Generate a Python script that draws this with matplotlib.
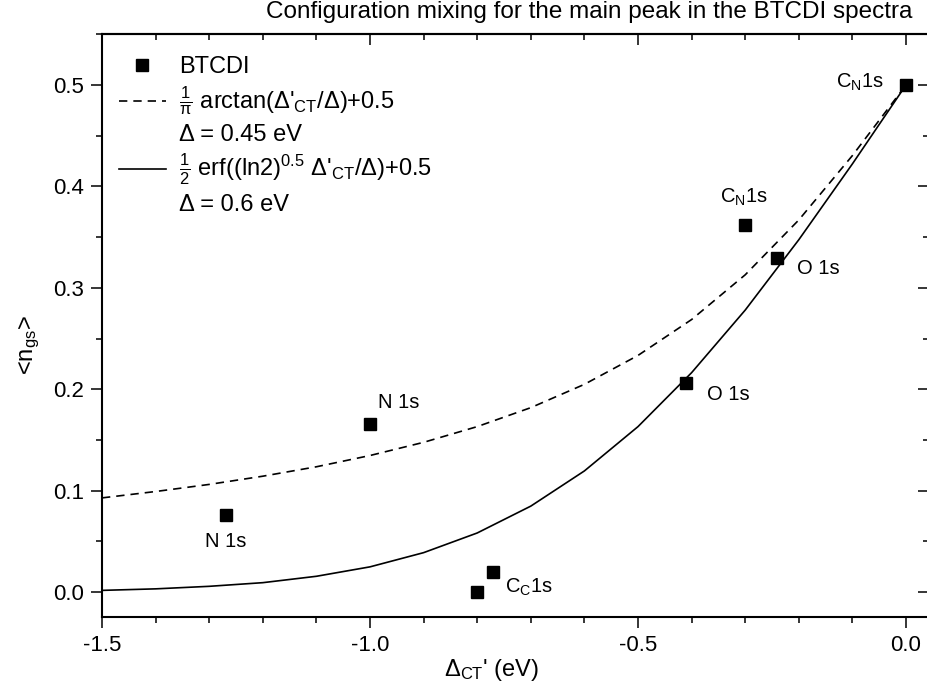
import matplotlib
matplotlib.use("Agg")
import matplotlib.pyplot as plt
from matplotlib.ticker import MultipleLocator, FormatStrFormatter
from matplotlib.lines import Line2D

plt.rcParams['font.family'] = ['Liberation Sans', 'DejaVu Sans']
plt.rcParams['mathtext.fontset'] = 'custom'
plt.rcParams['mathtext.rm'] = 'Liberation Sans'
plt.rcParams['mathtext.it'] = 'Liberation Sans:italic'
plt.rcParams['mathtext.bf'] = 'Liberation Sans:bold'

# Measured points
pt_x = [0.0, -0.30, -0.241, -0.41, -1.0, -1.269, -0.77, -0.80]
pt_y = [0.500, 0.362, 0.329, 0.206, 0.166, 0.076, 0.020, 0.000]
pt_labels = [r"C$_{\mathrm{N}}$1s", r"C$_{\mathrm{N}}$1s", "O 1s", "O 1s",
             "N 1s", "N 1s", "", r"C$_{\mathrm{C}}$1s"]
label_offsets = [(-33, 2), (-1, 20), (30, -7), (30, -8), (21, 15), (0, -19), (0, 0), (37, 3)]

# Curves (sampled every 0.1 eV)
curve_x = [-1.5, -1.4, -1.3, -1.2, -1.1, -1.0, -0.9, -0.8, -0.7, -0.6,
           -0.5, -0.4, -0.3, -0.2, -0.1, 0.0]
arctan_y = [0.0928, 0.0991, 0.1061, 0.1142, 0.1235, 0.1346, 0.1476, 0.1631,
            0.1818, 0.2048, 0.2333, 0.2687, 0.3128, 0.3669, 0.4304, 0.5000]
erf_y = [0.0016, 0.0031, 0.0056, 0.0092, 0.0155, 0.0248, 0.0388, 0.0582,
         0.0847, 0.1194, 0.1631, 0.2163, 0.2780, 0.3474, 0.4222, 0.5000]

fig = plt.figure(figsize=(9.27, 6.88), dpi=100)
W, H = 927, 688
L, R, T, B = 102, 929, 34, 617
ax = fig.add_axes([L / W, 1 - B / H, (R - L) / W, (B - T) / H])

ax.plot(curve_x, arctan_y, color='black', lw=1.2, linestyle=(0, (5, 3.6)))
ax.plot(curve_x, erf_y, color='black', lw=1.2)
ax.plot(pt_x, pt_y, linestyle='none', marker='s', color='black', markersize=9)

for x, y, lab, off in zip(pt_x, pt_y, pt_labels, label_offsets):
    if lab:
        ax.annotate(lab, (x, y), xytext=off, textcoords='offset points',
                    ha='center', va='center', fontsize=14.5)

ax.set_xlim(-1.5, (R - 906) / 536)
ax.set_ylim(-(B - 592) / 1014, 0.5 + (85 - T) / 1014)

ax.xaxis.set_major_locator(MultipleLocator(0.5))
ax.xaxis.set_minor_locator(MultipleLocator(0.1))
ax.yaxis.set_major_locator(MultipleLocator(0.1))
ax.yaxis.set_minor_locator(MultipleLocator(0.05))
ax.xaxis.set_major_formatter(FormatStrFormatter('%.1f'))
ax.yaxis.set_major_formatter(FormatStrFormatter('%.1f'))
ax.tick_params(which='major', direction='out', length=8, width=1.1, labelsize=16, pad=5)
ax.tick_params(which='minor', direction='out', length=4, width=1.1)
for s in ax.spines.values():
    s.set_linewidth(1.5)

top = ax.secondary_xaxis('top')
top.xaxis.set_major_locator(MultipleLocator(0.5))
top.xaxis.set_minor_locator(MultipleLocator(0.1))
top.tick_params(which='major', direction='in', length=8, width=1.1, labeltop=False)
top.tick_params(which='minor', direction='in', length=4, width=1.1)
right = ax.secondary_yaxis('right')
right.yaxis.set_major_locator(MultipleLocator(0.1))
right.yaxis.set_minor_locator(MultipleLocator(0.05))
right.tick_params(which='major', direction='in', length=8, width=1.1, labelright=False)
right.tick_params(which='minor', direction='in', length=4, width=1.1)
for sa in (top, right):
    for s in sa.spines.values():
        s.set_linewidth(1.5)

ax.set_xlabel("Δ$_{\\mathrm{CT}}$' (eV)", fontsize=17)
ax.xaxis.set_label_coords((492 - L) / (R - L), -(657 - B) / (B - T))
ax.set_ylabel(r"<n$_{\mathrm{gs}}$>", fontsize=17)
ax.yaxis.set_label_coords(-(L - 42) / (R - L), (B - 345) / (B - T))

fig.text(589 / W, 1 - 12 / H, "Configuration mixing for the main peak in the BTCDI spectra",
         ha='center', va='center', fontsize=17.5)

handles = [
    Line2D([], [], linestyle='none', marker='s', color='black', markersize=9),
    Line2D([], [], color='black', lw=1.2, linestyle=(0, (5, 3.6))),
    Line2D([], [], linestyle='none'),
    Line2D([], [], color='black', lw=1.2),
    Line2D([], [], linestyle='none'),
]
labels = [
    "BTCDI",
    r"$\frac{1}{\mathrm{\pi}}$ arctan(Δ'$_{\mathrm{CT}}$/Δ)+0.5",
    "Δ = 0.45 eV",
    r"$\frac{1}{2}$ erf((ln2)$^{0.5}$ Δ'$_{\mathrm{CT}}$/Δ)+0.5",
    "Δ = 0.6 eV",
]
ax.legend(handles, labels, loc='upper left', frameon=False, fontsize=17,
          handlelength=2.0, handletextpad=0.55, labelspacing=0.27,
          borderaxespad=0.3, bbox_to_anchor=(0.0, 0.99))

fig.savefig("out.png", dpi=100)
